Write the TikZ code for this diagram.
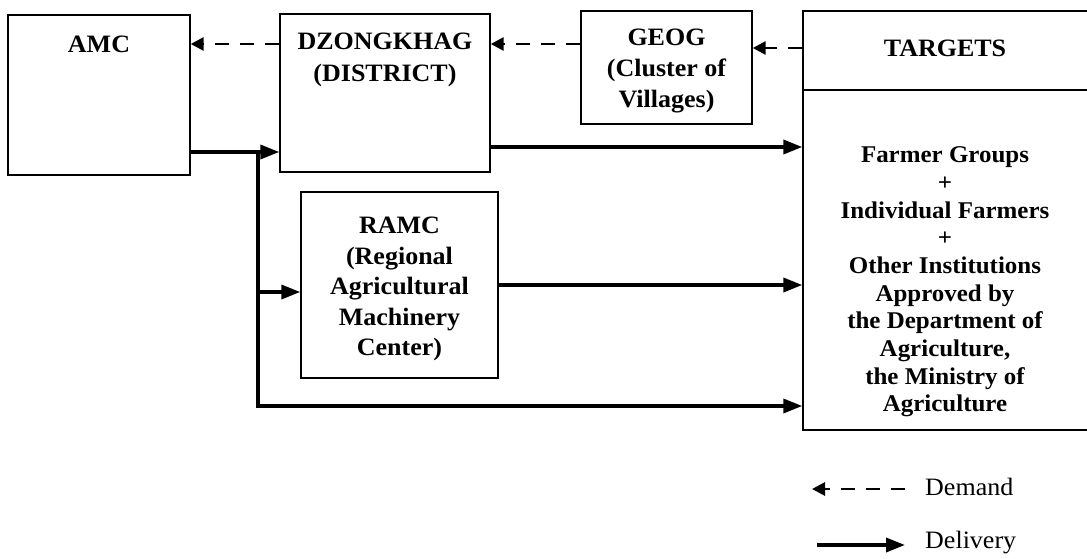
\documentclass[tikz,border=0pt]{standalone}
\usepackage{fontspec}
\setmainfont{Liberation Serif}[FakeStretch=1.04]
\usetikzlibrary{arrows.meta}
\begin{document}
\begin{tikzpicture}[x=1pt,y=-1pt,
  box/.style={draw,line width=1.4pt,minimum width=#1,inner sep=0pt},
  txt/.style={font=\fontsize{25}{31}\selectfont\bfseries,align=center,inner sep=0pt},
  legtxt/.style={font=\fontsize{25}{31}\selectfont,anchor=west,inner sep=0pt},
  delivery/.style={line width=3.6pt,-{Triangle[length=19pt,width=14pt]}},
  demand/.style={line width=2.8pt,dash pattern=on 14pt off 11pt,-{Triangle[length=13pt,width=13pt]}}
]
\useasboundingbox (0,0) rectangle (1087,559);
% boxes
\node[box=182pt,minimum height=160pt] (amc) at (99,95) {};
\node[box=210pt,minimum height=158pt] (dz) at (385,93) {};
\node[box=171pt,minimum height=113pt] (geog) at (666.5,67.5) {};
\node[box=197pt,minimum height=186pt] (ramc) at (399.5,285) {};
\node[box=289pt,minimum height=79pt] (tt) at (947.5,50.5) {};
\node[box=289pt,minimum height=340pt] (tb) at (947.5,260) {};
% texts
\node[txt] (amct) at (99,44) {AMC};
\node[txt,font=\fontsize{25}{32}\selectfont\bfseries] (dzt) at (385,60) {DZONGKHAG\\(DISTRICT)};
\node[txt] (geogt) at (666.5,71) {GEOG\\(Cluster of\\Villages)};
\node[txt,font=\fontsize{25}{30.5}\selectfont\bfseries] (ramct) at (399.5,289) {RAMC\\(Regional\\Agricultural\\Machinery\\Center)};
\node[txt] (ttt) at (945,48) {TARGETS};
\node[txt,font=\fontsize{24}{27.7}\selectfont\bfseries] (tbt) at (945,282) {Farmer Groups\\+\\Individual Farmers\\+\\Other Institutions\\Approved by\\the Department of\\Agriculture,\\the Ministry of\\Agriculture};
% demand arrows
\draw[demand] (dz.west |- amct) -- (amc.east |- amct);
\draw[demand] (geog.west |- amct) -- (dz.east |- amct);
\draw[demand] (tt.west |- ttt) -- (geog.east |- ttt);
% delivery arrows
\coordinate (j1) at (258,152);
\coordinate (j2) at (258,292);
\coordinate (j3) at (258,406);
\draw[delivery] (amc.east |- j1) -- (dz.west |- j1);
\draw[line width=3.6pt] (j1) -- (j3);
\draw[delivery] (j2) -- (ramc.west |- j2);
\draw[delivery,line join=miter] ([yshift=-1.8pt]j1) -- (j3) -- (tb.west |- j3);
\coordinate (d1) at (0,147);
\draw[delivery] (dz.east |- d1) -- (tb.west |- d1);
\coordinate (d2) at (0,285);
\draw[delivery] (ramc.east |- d2) -- (tb.west |- d2);
% legend
\coordinate (l1a) at (905,489);
\coordinate (l1b) at (812,489);
\draw[demand] (l1a) -- (l1b);
\node[legtxt] (demt) at (925,487) {Demand};
\coordinate (l2a) at (817,545);
\coordinate (l2b) at (905,545);
\draw[delivery] (l2a) -- (l2b);
\node[legtxt] (delt) at (925,543) {Delivery};
\end{tikzpicture}
\end{document}
